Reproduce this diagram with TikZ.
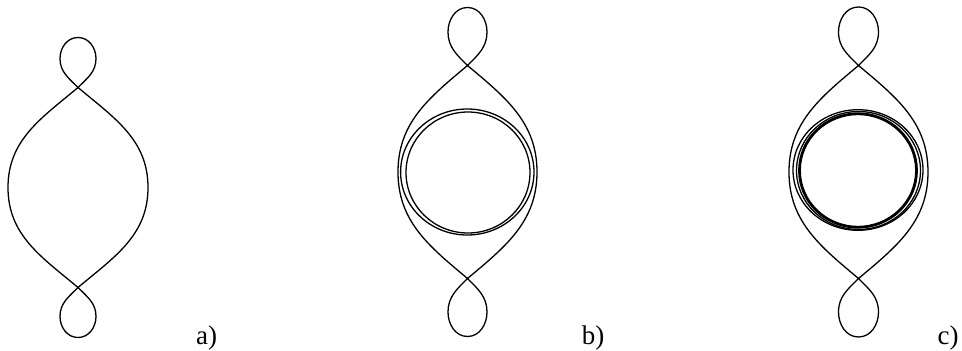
\documentclass[tikz,border=0pt]{standalone}
\usepackage{fontspec}
\setmainfont{Liberation Serif}
\tikzset{
  curve/.style={line width=1.3pt, line join=round, black},
  ring/.style={line width=1.3pt, black},
  thickring/.style={line width=2.8pt, black},
  lbl/.style={anchor=base, inner sep=0pt, font=\fontsize{27}{30}\selectfont}
}
% #1 d (crossing), #2 L (loop tip), #3 W (lens half width), #4 w (loop half width), #5 hy (loop widest)
\newcommand\eightcurve[5]{%
  \draw[curve] (0,#1) to[out=-40,in=90] (#3,0) to[out=-90,in=40] (0,-#1)
    to[out=-135,in=90] (-#4,-#5) to[out=-90,in=180] (0,-#2) to[out=0,in=-90] (#4,-#5) to[out=90,in=-45] (0,-#1)
    to[out=140,in=-90] (-#3,0) to[out=90,in=-140] (0,#1)
    to[out=45,in=-90] (#4,#5) to[out=90,in=0] (0,#2) to[out=180,in=90] (-#4,#5) to[out=-90,in=135] (0,#1) -- cycle;
}
\begin{document}
\begin{tikzpicture}[x=1pt,y=1pt]
\useasboundingbox (0,0) rectangle (962,351);
% panel a
\begin{scope}[shift={(78,163.5)}]
  \eightcurve{100}{150}{70}{18}{129}
\end{scope}
% panel b
\begin{scope}[shift={(467.5,179)}]
  \eightcurve{106.5}{164.5}{69.5}{19.5}{140}
  \draw[ring] (-0.2,0) ellipse [x radius=66.7, y radius=63];
  \draw[ring] (0.5,-0.5) ellipse [x radius=62, y radius=60.5];
\end{scope}
% panel c
\begin{scope}[shift={(858.5,179)}]
  \eightcurve{106.5}{165}{69.5}{20}{140}
  \draw[ring] (-0.5,2) ellipse [x radius=65, y radius=60.3];
  \draw[ring] (0,1.5) ellipse [x radius=62, y radius=59];
  \draw[thickring] (-0.5,1.5) ellipse [x radius=58.5, y radius=56.7];
\end{scope}
\node[lbl] (la) at (206.5,6) {a)};
\node[lbl] (lb) at (593,6) {b)};
\node[lbl] (lc) at (948,6) {c)};
\end{tikzpicture}
\end{document}
